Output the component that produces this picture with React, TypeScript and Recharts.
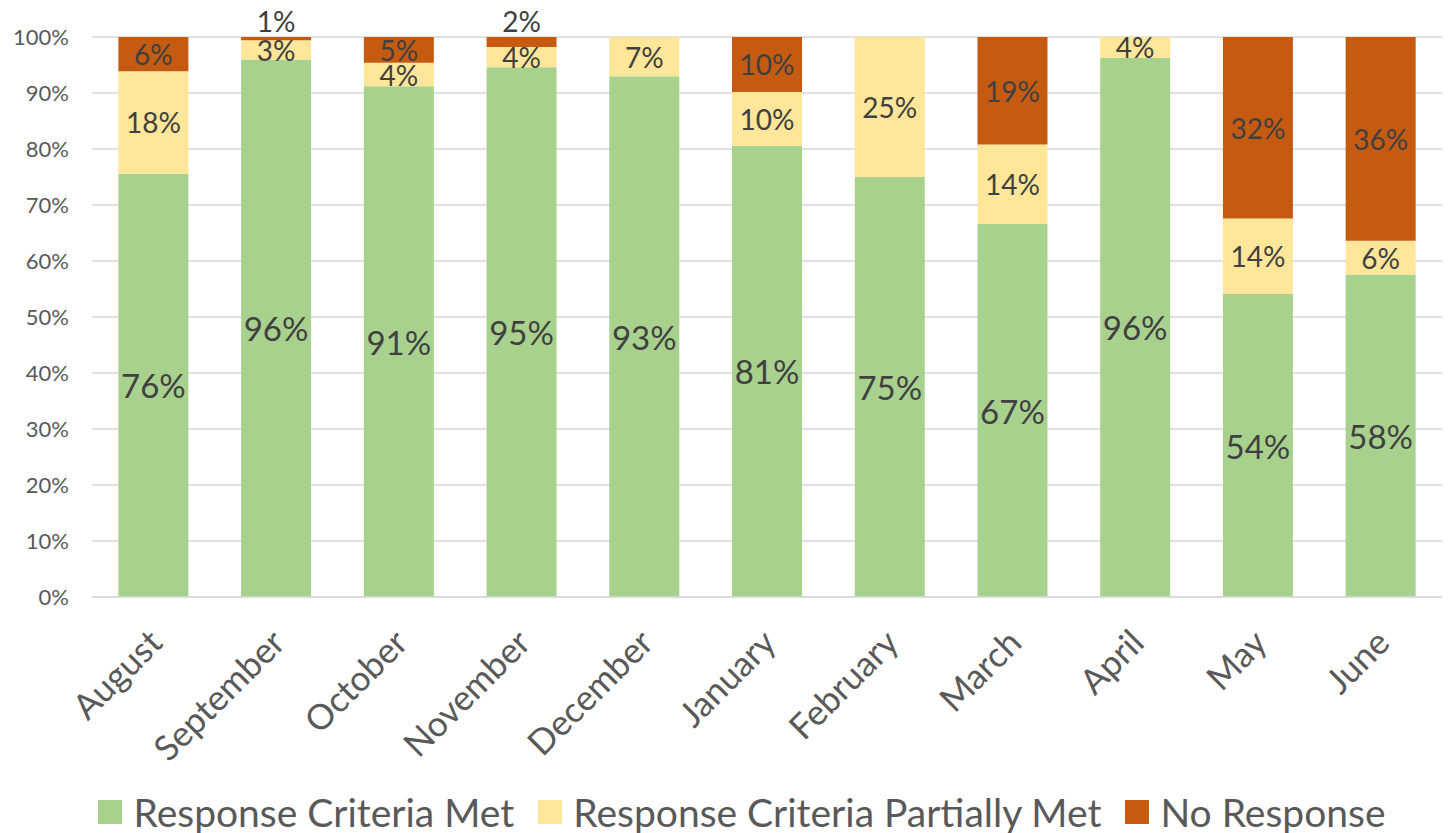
import React from 'react'
import { BarChart, Bar, XAxis, YAxis, CartesianGrid, Legend, LabelList } from 'recharts'

const months = ['August', 'September', 'October', 'November', 'December', 'January', 'February', 'March', 'April', 'May', 'June']
const criteriaMet = [75.6, 96.0, 91.2, 94.6, 93.0, 80.6, 75.0, 66.6, 96.3, 54.1, 57.6]
const partiallyMet = [18.3, 3.4, 4.2, 3.6, 7.0, 9.6, 25.0, 14.2, 3.7, 13.5, 6.0]
const noResponse = [6.1, 0.6, 4.6, 1.8, 0, 9.8, 0, 19.2, 0, 32.4, 36.4]
const yTicks = [0, 10, 20, 30, 40, 50, 60, 70, 80, 90, 100]

const series = [
  { key: 'met', name: 'Response Criteria Met', color: '#A9D18E', fontSize: 33 },
  { key: 'partial', name: 'Response Criteria Partially Met', color: '#FFE699', fontSize: 28 },
  { key: 'none', name: 'No Response', color: '#C55A11', fontSize: 28 },
]

const data = months.map((m, i) => ({
  month: m,
  met: criteriaMet[i],
  partial: partiallyMet[i],
  none: noResponse[i],
}))

const FONT = 'Lato, sans-serif'

// segment label, tiny segments get their label put above the bar
const makeLabel = (fontSize: number) => (props: any) => {
  const { x, y, width, height, value } = props
  if (!value) return null
  const small = height < 15
  return (
    <text
      x={x + width / 2}
      y={small ? y - 16 : y + height / 2}
      textAnchor="middle"
      dominantBaseline="central"
      fill="#404040"
      fontSize={fontSize}
      fontFamily={FONT}
    >
      {Math.round(value)}%
    </text>
  )
}

const MonthTick = (props: any) => {
  const { x, y, payload } = props
  return (
    <g transform={`translate(${x + 11},${y + 40})`}>
      <text transform="rotate(-45)" textAnchor="end" fill="#595959" fontSize={35} fontFamily={FONT}>
        {payload.value}
      </text>
    </g>
  )
}

const LegendContent = () => (
  <div
    style={{
      display: 'flex',
      justifyContent: 'center',
      alignItems: 'center',
      height: 40,
      lineHeight: '40px',
      paddingLeft: 60,
      fontFamily: FONT,
      fontSize: 39,
      color: '#595959',
    }}
  >
    {series.map(s => (
      <div key={s.key} style={{ display: 'flex', alignItems: 'center', marginRight: 24 }}>
        <div style={{ width: 24, height: 24, background: s.color, marginRight: 11 }} />
        <span>{s.name}</span>
      </div>
    ))}
  </div>
)

export default function App() {
  return (
    <div style={{ width: 1448, height: 833, background: '#fff' }}>
      <style>{`body{margin:0}`}</style>
      <BarChart
        width={1448}
        height={833}
        data={data}
        margin={{ top: 37, right: 6, bottom: 1, left: 0 }}
        barCategoryGap="21.5%"
      >
        <CartesianGrid vertical={false} stroke="#D9D9D9" strokeWidth={1.5} />
        <XAxis
          dataKey="month"
          interval={0}
          height={195}
          axisLine={{ stroke: '#D9D9D9', strokeWidth: 1.5 }}
          tickLine={false}
          tick={<MonthTick />}
        />
        <YAxis
          domain={[0, 100]}
          ticks={yTicks}
          width={92}
          axisLine={false}
          tickLine={false}
          tickMargin={17}
          tickFormatter={(v: number) => `${v}%`}
          tick={{ fill: '#595959', fontSize: 22, fontFamily: FONT }}
        />
        <Legend verticalAlign="bottom" content={<LegendContent />} wrapperStyle={{ left: 0, width: 1448 }} />
        {series.map(s => (
          <Bar key={s.key} dataKey={s.key} name={s.name} stackId="a" fill={s.color} isAnimationActive={false}>
            <LabelList dataKey={s.key} content={makeLabel(s.fontSize)} />
          </Bar>
        ))}
      </BarChart>
    </div>
  )
}
